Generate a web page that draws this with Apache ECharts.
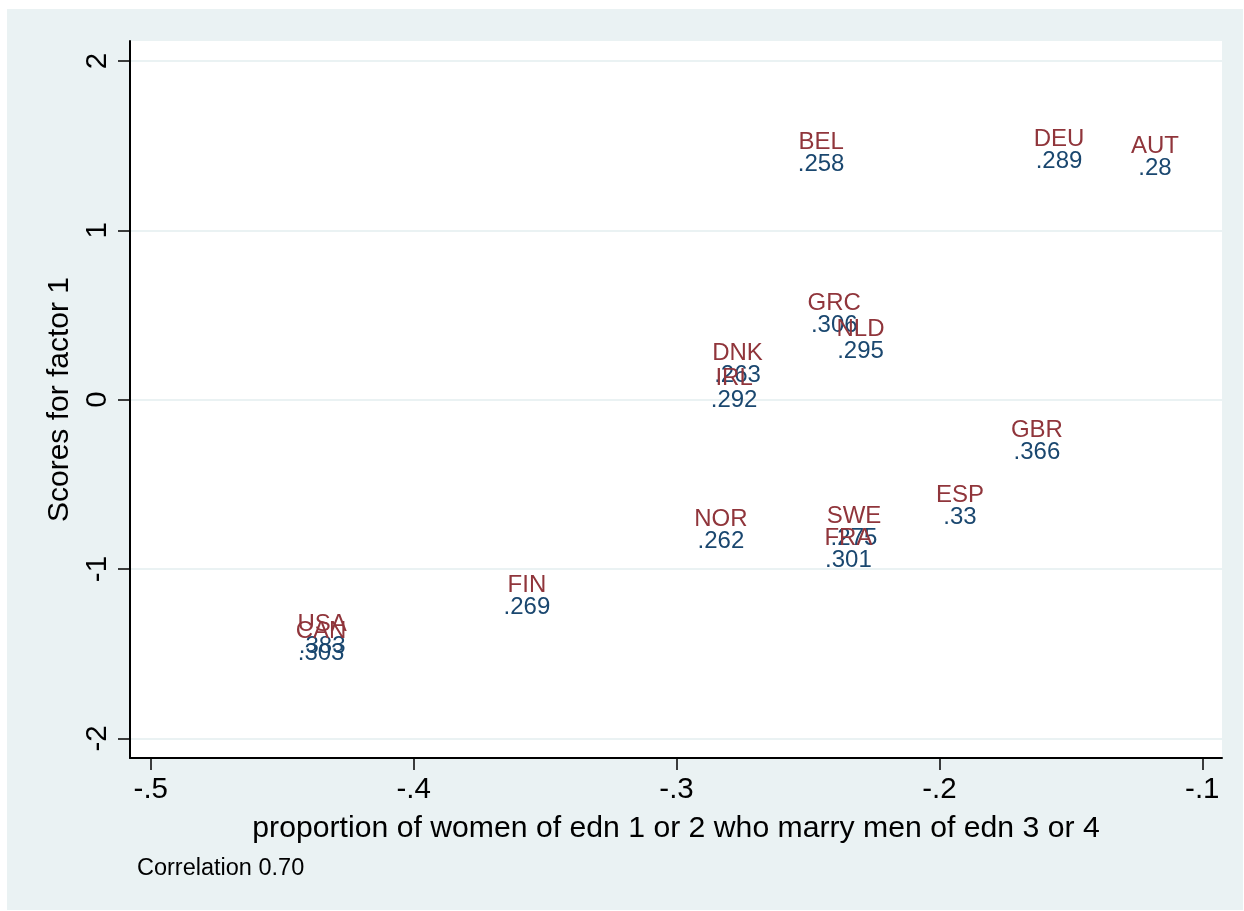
<!DOCTYPE html>
<html>
<head>
<meta charset="utf-8">
<script src="https://cdn.jsdelivr.net/npm/echarts@6/dist/echarts.min.js"></script>
<style>
html,body{margin:0;padding:0;background:#fff;}
#c{width:1244px;height:911px;}
</style>
</head>
<body>
<div id="c"></div>
<script>
// ---- data ----
const countries   = ['BEL','DEU','AUT','GRC','NLD','DNK','IRL','GBR','ESP','NOR','SWE','FRA','FIN','USA','CAN'];
const xValues     = [-0.245,-0.1545,-0.118,-0.240,-0.230,-0.2768,-0.2781,-0.1629,-0.1922,-0.2831,-0.2325,-0.2346,-0.3569,-0.4348,-0.4352];
const yValues     = [1.455, 1.473, 1.432, 0.501, 0.353, 0.209, 0.061, -0.249, -0.630, -0.769, -0.757, -0.884, -1.159, -1.390, -1.434];
const valueLabels = ['.258','.289','.28','.306','.295','.263','.292','.366','.33','.262','.275','.301','.269','.383','.303'];
const xTicks = [-0.5,-0.4,-0.3,-0.2,-0.1];
const yTicks = [-2,-1,0,1,2];
const xTitle = 'proportion of women of edn 1 or 2 who marry men of edn 3 or 4';
const yTitle = 'Scores for factor 1';
const note = 'Correlation 0.70';

const RED = '#90353b', BLUE = '#1a476f', BG = '#eaf2f3';
const FONT = '"Liberation Sans", Arial, Helvetica, sans-serif';
const stataFmt = v => { let s = String(+v.toFixed(4)); return s.replace(/^(-?)0\./, '$1.'); };

const points = countries.map((c,i)=>[xValues[i], yValues[i], c, valueLabels[i]]);

const chart = echarts.init(document.getElementById('c'), null, {renderer:'canvas'});
chart.setOption({
  animation:false,
  backgroundColor:'#ffffff',
  textStyle:{fontFamily:FONT},
  graphic:[{type:'rect', z:-10, silent:true, shape:{x:7,y:9,width:1236,height:901}, style:{fill:BG}}],
  title:{text:note, left:137, top:857, padding:0,
    textStyle:{fontFamily:FONT, fontSize:23.5, fontWeight:'normal', color:'#000'}},
  grid:{left:130, right:22, top:41, bottom:153, show:true, backgroundColor:'#fff', borderWidth:0},
  xAxis:{type:'value', min:-0.5079, max:-0.0925,
    name:xTitle, nameLocation:'middle', nameGap:56,
    nameTextStyle:{fontFamily:FONT, fontSize:30.2, color:'#000'},
    axisLine:{show:true, onZero:false, lineStyle:{color:'#000', width:2}},
    axisTick:{show:true, length:12, customValues:xTicks, lineStyle:{color:'#000', width:1.5}},
    axisLabel:{customValues:xTicks, margin:17, fontFamily:FONT, fontSize:29.5, color:'#000', formatter:stataFmt},
    splitLine:{show:false}},
  yAxis:{type:'value', min:-2.116, max:2.118,
    name:yTitle, nameLocation:'middle', nameGap:51, nameRotate:90,
    nameTextStyle:{fontFamily:FONT, fontSize:30, color:'#000'},
    axisLine:{show:true, onZero:false, lineStyle:{color:'#000', width:2}},
    axisTick:{show:true, length:12, customValues:yTicks, lineStyle:{color:'#000', width:1.5}},
    axisLabel:{customValues:yTicks, rotate:90, margin:17, fontFamily:FONT, fontSize:29.5, color:'#000', formatter:stataFmt},
    splitLine:{show:true, lineStyle:{color:BG, width:2}}},
  series:[{
    type:'scatter', data:points, symbolSize:1, itemStyle:{color:'transparent', opacity:1},
    silent:true,
    label:{show:true, position:'inside', fontFamily:FONT, opacity:1,
      formatter:p=>'{c|'+p.value[2]+'}\n{v|'+p.value[3]+'}',
      rich:{c:{color:RED, fontSize:24, lineHeight:22, fontFamily:FONT, opacity:1},
            v:{color:BLUE, fontSize:24, lineHeight:22, fontFamily:FONT, opacity:1}}},
    labelLayout:{hideOverlap:false}
  }]
});
</script>
</body>
</html>
